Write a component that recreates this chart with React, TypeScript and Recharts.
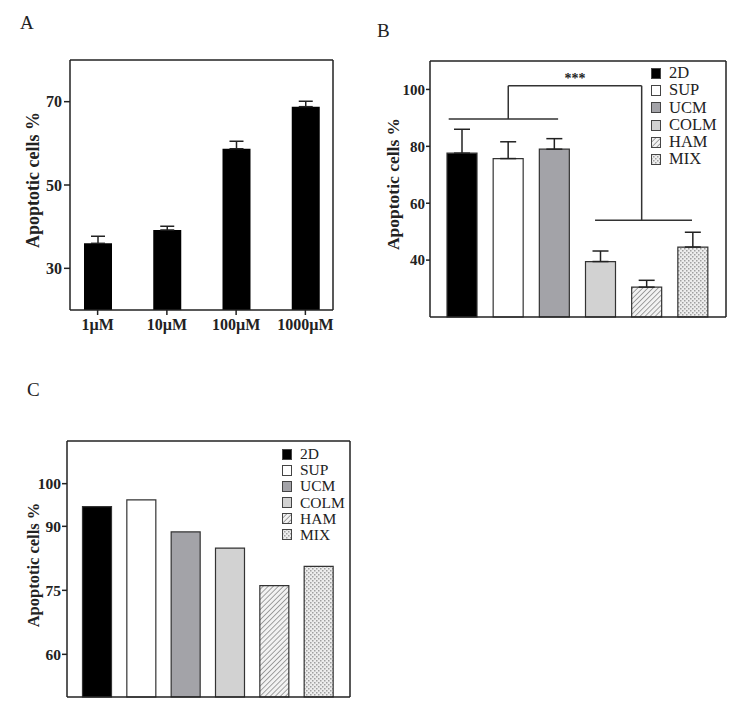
import React from 'react'
import { BarChart, Bar, Cell, XAxis, YAxis, ErrorBar, ReferenceLine, Legend, Label } from 'recharts'

// panel A: dose response
const doseLabels = ['1µM', '10µM', '100µM', '1000µM']
const doseApoptosis = [36, 39.2, 58.7, 68.8]
const doseError = [1.7, 0.9, 1.8, 1.3]

// panels B and C: culture groups
const groups = ['2D', 'SUP', 'UCM', 'COLM', 'HAM', 'MIX']
const groupApoptosisB = [77.6, 75.7, 79, 39.5, 30.5, 44.6]
const groupErrorB = [8.4, 5.9, 3.7, 3.7, 2.4, 5.2]
const groupApoptosisC = [94.6, 96.2, 88.7, 84.9, 76.1, 80.6]

// significance bracket in B (x in category index units, y in %)
const bracketSegments = [
  [{ x: -0.29, y: 89.6 }, { x: 2.08, y: 89.6 }],
  [{ x: 1.0, y: 89.6 }, { x: 1.0, y: 101.3 }],
  [{ x: 1.0, y: 101.3 }, { x: 3.89, y: 101.3 }],
  [{ x: 3.89, y: 101.3 }, { x: 3.89, y: 54 }],
  [{ x: 2.88, y: 54 }, { x: 4.98, y: 54 }],
]

const serif = '"Liberation Serif", "Times New Roman", serif'
const ink = '#222'

const doseData = doseLabels.map((name, i) => ({ name, value: doseApoptosis[i], err: [0, doseError[i]] }))
const dataB = groups.map((name, i) => ({ name, idx: i, value: groupApoptosisB[i], err: [0, groupErrorB[i]] }))
const dataC = groups.map((name, i) => ({ name, value: groupApoptosisC[i] }))

const groupFill = (p: string) => ['#000', '#fff', '#a3a3a8', '#d2d2d2', `url(#${p}-hatch)`, `url(#${p}-dots)`]

function Patterns({ p }: { p: string }) {
  return (
    <defs>
      <pattern id={`${p}-hatch`} width="3.6" height="3.6" patternUnits="userSpaceOnUse" patternTransform="rotate(45)">
        <rect width="3.6" height="3.6" fill="#f2f2f2" />
        <line x1="0" y1="0" x2="0" y2="3.6" stroke="#8c8c8c" strokeWidth="1.6" />
      </pattern>
      <pattern id={`${p}-dots`} width="4" height="4" patternUnits="userSpaceOnUse">
        <rect width="4" height="4" fill="#ededed" />
        <rect x="0" y="0" width="1.5" height="1.5" fill="#a0a0a0" />
        <rect x="2" y="2" width="1.5" height="1.5" fill="#a0a0a0" />
      </pattern>
    </defs>
  )
}

const yLabel = (dx: number, dy: number, size: number) => (props: any) => {
  const vb = props.viewBox
  const cx = vb.x + dx
  const cy = vb.y + vb.height / 2 + dy
  return (
    <text x={cx} y={cy} transform={`rotate(-90 ${cx} ${cy})`} textAnchor="middle" dominantBaseline="central"
      style={{ fontFamily: serif, fontWeight: 700, fontSize: size, fill: ink }}>
      Apoptotic cells %
    </text>
  )
}

function GroupLegend({ p, fontSize, rowH, gap }: { p: string; fontSize: number; rowH: number; gap: number }) {
  const fills = groupFill(p)
  return (
    <div style={{ fontFamily: serif, fontSize, color: ink, lineHeight: 1 }}>
      {groups.map((g, i) => (
        <div key={g} style={{ display: 'flex', alignItems: 'center', height: rowH }}>
          <svg width={10} height={11} style={{ marginRight: gap, flex: 'none' }}>
            <rect x={0.5} y={0.5} width={9} height={10} fill={fills[i]} stroke="#444" strokeWidth={1} />
          </svg>
          <span>{g}</span>
        </div>
      ))}
    </div>
  )
}

const panelLetter = (text: string, left: number, top: number) => (
  <div style={{ position: 'absolute', left, top, fontFamily: serif, fontSize: 19, color: ink, lineHeight: 1 }}>{text}</div>
)

const axisLine = { stroke: ink, strokeWidth: 1.5 }
const tickFont = (size: number) => ({ fontFamily: serif, fontWeight: 700, fontSize: size, fill: ink })

export default function App() {
  const fillsB = groupFill('b')
  const fillsC = groupFill('c')
  return (
    <div style={{ position: 'absolute', left: 0, top: 0, width: 734, height: 705, background: '#fff' }}>
      {panelLetter('A', 20, 13)}
      {panelLetter('B', 377, 21)}
      {panelLetter('C', 27, 380)}

      <div style={{ position: 'absolute', left: 0, top: 0 }}>
        <BarChart width={360} height={345} data={doseData} margin={{ top: 59, right: 26, left: 10, bottom: 0 }}>
          <XAxis dataKey="name" height={35} padding={{ left: -7, right: -7 }} axisLine={axisLine}
            tickLine={{ stroke: ink, strokeWidth: 1.5 }} tickSize={5} tickMargin={4} tick={tickFont(16)} interval={0} />
          <XAxis xAxisId="t" dataKey="name" orientation="top" height={1} tick={false} tickLine={false} axisLine={axisLine} />
          <YAxis width={60} domain={[20, 80]} ticks={[30, 50, 70]} axisLine={axisLine}
            tickLine={{ stroke: ink, strokeWidth: 1.5 }} tickSize={6} tickMargin={2} tick={tickFont(16)}>
            <Label content={yLabel(23, -5, 18)} />
          </YAxis>
          <YAxis yAxisId="r" orientation="right" width={1} tick={false} tickLine={false} axisLine={axisLine} />
          <Bar dataKey="value" fill="#000" barSize={28} isAnimationActive={false}>
            <ErrorBar dataKey="err" width={7} stroke={ink} strokeWidth={1.5} isAnimationActive={false} />
          </Bar>
        </BarChart>
      </div>

      <div style={{ position: 'absolute', left: 360, top: 0 }}>
        <BarChart width={374} height={340} data={dataB} margin={{ top: 60, right: 7, left: 12, bottom: 0 }}>
          <Patterns p="b" />
          <XAxis dataKey="name" height={23} padding={{ left: 9, right: 10 }} axisLine={axisLine} tick={false} tickLine={false} />
          <XAxis xAxisId="n" dataKey="idx" type="number" domain={[-0.5, 5.5]} padding={{ left: 9, right: 10 }}
            orientation="top" height={1} tick={false} tickLine={false} axisLine={axisLine} />
          <YAxis width={58} domain={[20, 110]} ticks={[40, 60, 80, 100]} axisLine={axisLine}
            tickLine={{ stroke: ink, strokeWidth: 1.5 }} tickSize={4} tickMargin={1} tick={tickFont(15)}>
            <Label content={yLabel(21, -5, 17.5)} />
          </YAxis>
          <YAxis yAxisId="r" orientation="right" width={1} tick={false} tickLine={false} axisLine={axisLine} />
          <Bar dataKey="value" barSize={30} stroke="#333" strokeWidth={1.2} isAnimationActive={false}>
            {dataB.map((d, i) => <Cell key={d.name} fill={fillsB[i]} />)}
            <ErrorBar dataKey="err" width={8} stroke={ink} strokeWidth={1.5} isAnimationActive={false} />
          </Bar>
          {bracketSegments.map((seg, i) => (
            <ReferenceLine key={i} xAxisId="n" segment={seg} stroke="#333" strokeWidth={1.5}
              label={i === 2 ? { value: '***', position: 'top', offset: 3, style: { fontFamily: serif, fontWeight: 700, fontSize: 14, fill: ink } } : undefined} />
          ))}
          <Legend layout="vertical" align="center" verticalAlign="middle"
            wrapperStyle={{ left: 291, top: 64.6, width: 80 }}
            content={() => <GroupLegend p="b" fontSize={16.5} rowH={17.3} gap={8} />} />
        </BarChart>
      </div>

      <div style={{ position: 'absolute', left: 0, top: 360 }}>
        <BarChart width={360} height={345} data={dataC} margin={{ top: 80, right: 9, left: 11, bottom: 0 }}>
          <Patterns p="c" />
          <XAxis dataKey="name" height={8} padding={{ left: 7.5, right: 9.5 }} axisLine={axisLine} tick={false} tickLine={false} />
          <XAxis xAxisId="t" dataKey="name" orientation="top" height={1} tick={false} tickLine={false} axisLine={axisLine} />
          <YAxis width={56} domain={[50, 110]} ticks={[60, 75, 90, 100]} axisLine={axisLine}
            tickLine={{ stroke: ink, strokeWidth: 1.5 }} tickSize={5} tickMargin={1} tick={tickFont(15.5)}>
            <Label content={yLabel(22, -4, 16.5)} />
          </YAxis>
          <YAxis yAxisId="r" orientation="right" width={1} tick={false} tickLine={false} axisLine={axisLine} />
          <Bar dataKey="value" barSize={29} stroke="#333" strokeWidth={1.2} isAnimationActive={false}>
            {dataC.map((d, i) => <Cell key={d.name} fill={fillsC[i]} />)}
          </Bar>
          <Legend layout="vertical" align="center" verticalAlign="middle"
            wrapperStyle={{ left: 282, top: 86, width: 80 }}
            content={() => <GroupLegend p="c" fontSize={15.5} rowH={16.1} gap={8} />} />
        </BarChart>
      </div>
    </div>
  )
}
